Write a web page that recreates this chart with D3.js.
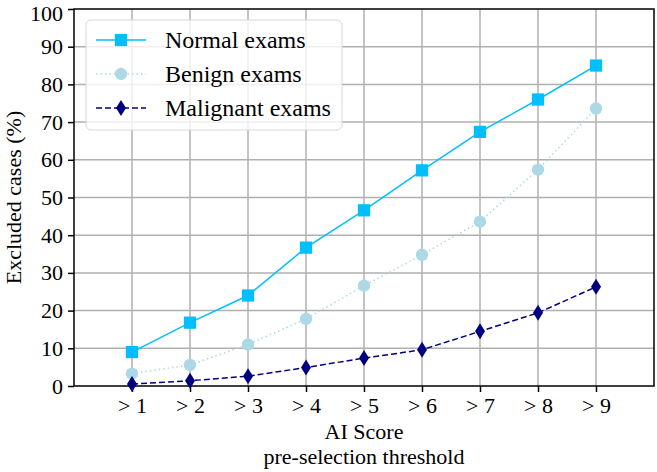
<!DOCTYPE html>
<html>
<head>
<meta charset="utf-8">
<script src="https://cdn.jsdelivr.net/npm/d3@7"></script>
<style>
  body { margin: 0; background: #fff; }
  text { font-family: "Liberation Serif", "Times New Roman", serif; }
</style>
</head>
<body>
<div id="chart"></div>
<script>
// DATA
const thresholds = [1, 2, 3, 4, 5, 6, 7, 8, 9];
const tickLabels = ['> 1', '> 2', '> 3', '> 4', '> 5', '> 6', '> 7', '> 8', '> 9'];
const normalExams = [9, 16.8, 24, 36.7, 46.6, 57.2, 67.4, 76, 85];
const benignExams = [3.3, 5.6, 11, 17.8, 26.6, 34.8, 43.6, 57.4, 73.6];
const malignantExams = [0.5, 1.4, 2.6, 4.9, 7.4, 9.6, 14.5, 19.4, 26.3];
const yTicks = [0, 10, 20, 30, 40, 50, 60, 70, 80, 90, 100];

// SETTINGS
const width = 657, height = 472;
const margin = { top: 9, right: 3, bottom: 86, left: 74 };
const graphWidth = width - margin.left - margin.right;
const graphHeight = height - margin.top - margin.bottom;
const tickFont = '22px';

const series = [
  { name: 'Normal exams', values: normalExams, color: '#00bfff', dash: null, marker: 'square' },
  { name: 'Benign exams', values: benignExams, color: '#add8e6', dash: '1.5,3', marker: 'circle' },
  { name: 'Malignant exams', values: malignantExams, color: '#000080', dash: '6,3', marker: 'diamond' }
];

// SCALES
const x = d3.scaleLinear().domain([0, 10]).range([0, graphWidth]);
const y = d3.scaleLinear().domain([0, 100]).range([graphHeight, 0]);

const svg = d3.select('#chart').append('svg')
  .attr('width', width)
  .attr('height', height);

const graph = svg.append('g')
  .attr('transform', `translate(${margin.left}, ${margin.top})`);

// GRID
graph.append('g').selectAll('line').data(yTicks.slice(1, -1)).join('line')
  .attr('x1', 0).attr('x2', graphWidth)
  .attr('y1', d => y(d)).attr('y2', d => y(d))
  .attr('stroke', '#b0b0b0').attr('stroke-width', 1.5);

graph.append('g').selectAll('line').data(thresholds).join('line')
  .attr('x1', d => x(d)).attr('x2', d => x(d))
  .attr('y1', 0).attr('y2', graphHeight)
  .attr('stroke', '#b0b0b0').attr('stroke-width', 1.5);

// AXES
const xAxis = d3.axisBottom(x)
  .tickValues(thresholds)
  .tickFormat((d, i) => tickLabels[i])
  .tickSize(6)
  .tickPadding(5);

const yAxis = d3.axisLeft(y)
  .tickValues(yTicks)
  .tickSize(6)
  .tickPadding(5);

const xAxisGroup = graph.append('g')
  .attr('transform', `translate(0, ${graphHeight})`)
  .call(xAxis);
const yAxisGroup = graph.append('g').call(yAxis);

[xAxisGroup, yAxisGroup].forEach(g => {
  g.select('.domain').remove();
  g.selectAll('.tick line').attr('stroke', '#000').attr('stroke-width', 1.5);
  g.selectAll('.tick text')
    .attr('fill', '#000')
    .style('font-family', '"Liberation Serif", serif')
    .style('font-size', tickFont);
});

// keep the top label inside the page
yAxisGroup.selectAll('.tick text').filter(d => d === 100).attr('dy', '0.5em');

// frame
graph.append('rect')
  .attr('width', graphWidth).attr('height', graphHeight)
  .attr('fill', 'none').attr('stroke', '#000').attr('stroke-width', 1.5);

// MARKERS
const symbols = {
  square: d3.symbol().type(d3.symbolSquare).size(150),
  circle: d3.symbol().type(d3.symbolCircle).size(120)
};
function drawMarker(sel, s) {
  if (s.marker === 'diamond') {
    sel.append('path').attr('d', 'M0,-8L5,0L0,8L-5,0Z').attr('fill', s.color);
  } else {
    sel.append('path').attr('d', symbols[s.marker]()).attr('fill', s.color);
  }
}

const line = d3.line()
  .x((d, i) => x(thresholds[i]))
  .y(d => y(d));

series.forEach(s => {
  graph.append('path')
    .datum(s.values)
    .attr('fill', 'none')
    .attr('stroke', s.color)
    .attr('stroke-width', 1.5)
    .attr('stroke-dasharray', s.dash)
    .attr('d', line);
  s.values.forEach((v, i) => {
    const g = graph.append('g').attr('transform', `translate(${x(thresholds[i])}, ${y(v)})`);
    drawMarker(g, s);
  });
});

// LEGEND
const legend = graph.append('g').attr('transform', 'translate(12, 11)');
legend.append('rect')
  .attr('width', 256).attr('height', 110)
  .attr('rx', 5)
  .attr('fill', 'rgba(255,255,255,0.8)')
  .attr('stroke', '#d8d8d8').attr('stroke-width', 1);

series.forEach((s, i) => {
  const row = legend.append('g').attr('transform', `translate(0, ${20 + i * 34})`);
  row.append('line')
    .attr('x1', 10).attr('x2', 60)
    .attr('stroke', s.color).attr('stroke-width', 1.5)
    .attr('stroke-dasharray', s.dash);
  drawMarker(row.append('g').attr('transform', 'translate(35, 0)'), s);
  row.append('text')
    .attr('x', 79).attr('dy', '0.35em')
    .style('font-size', '24px')
    .text(s.name);
});

// LABELS
svg.append('text')
  .attr('transform', `translate(13, ${margin.top + graphHeight / 2}) rotate(-90)`)
  .attr('text-anchor', 'middle')
  .attr('dy', '0.35em')
  .style('font-size', tickFont)
  .text('Excluded cases (%)');

svg.append('text')
  .attr('x', margin.left + x(5)).attr('y', 439)
  .attr('text-anchor', 'middle')
  .style('font-size', tickFont)
  .text('AI Score');
svg.append('text')
  .attr('x', margin.left + x(5)).attr('y', 464)
  .attr('text-anchor', 'middle')
  .style('font-size', tickFont)
  .text('pre-selection threshold');
</script>
</body>
</html>
